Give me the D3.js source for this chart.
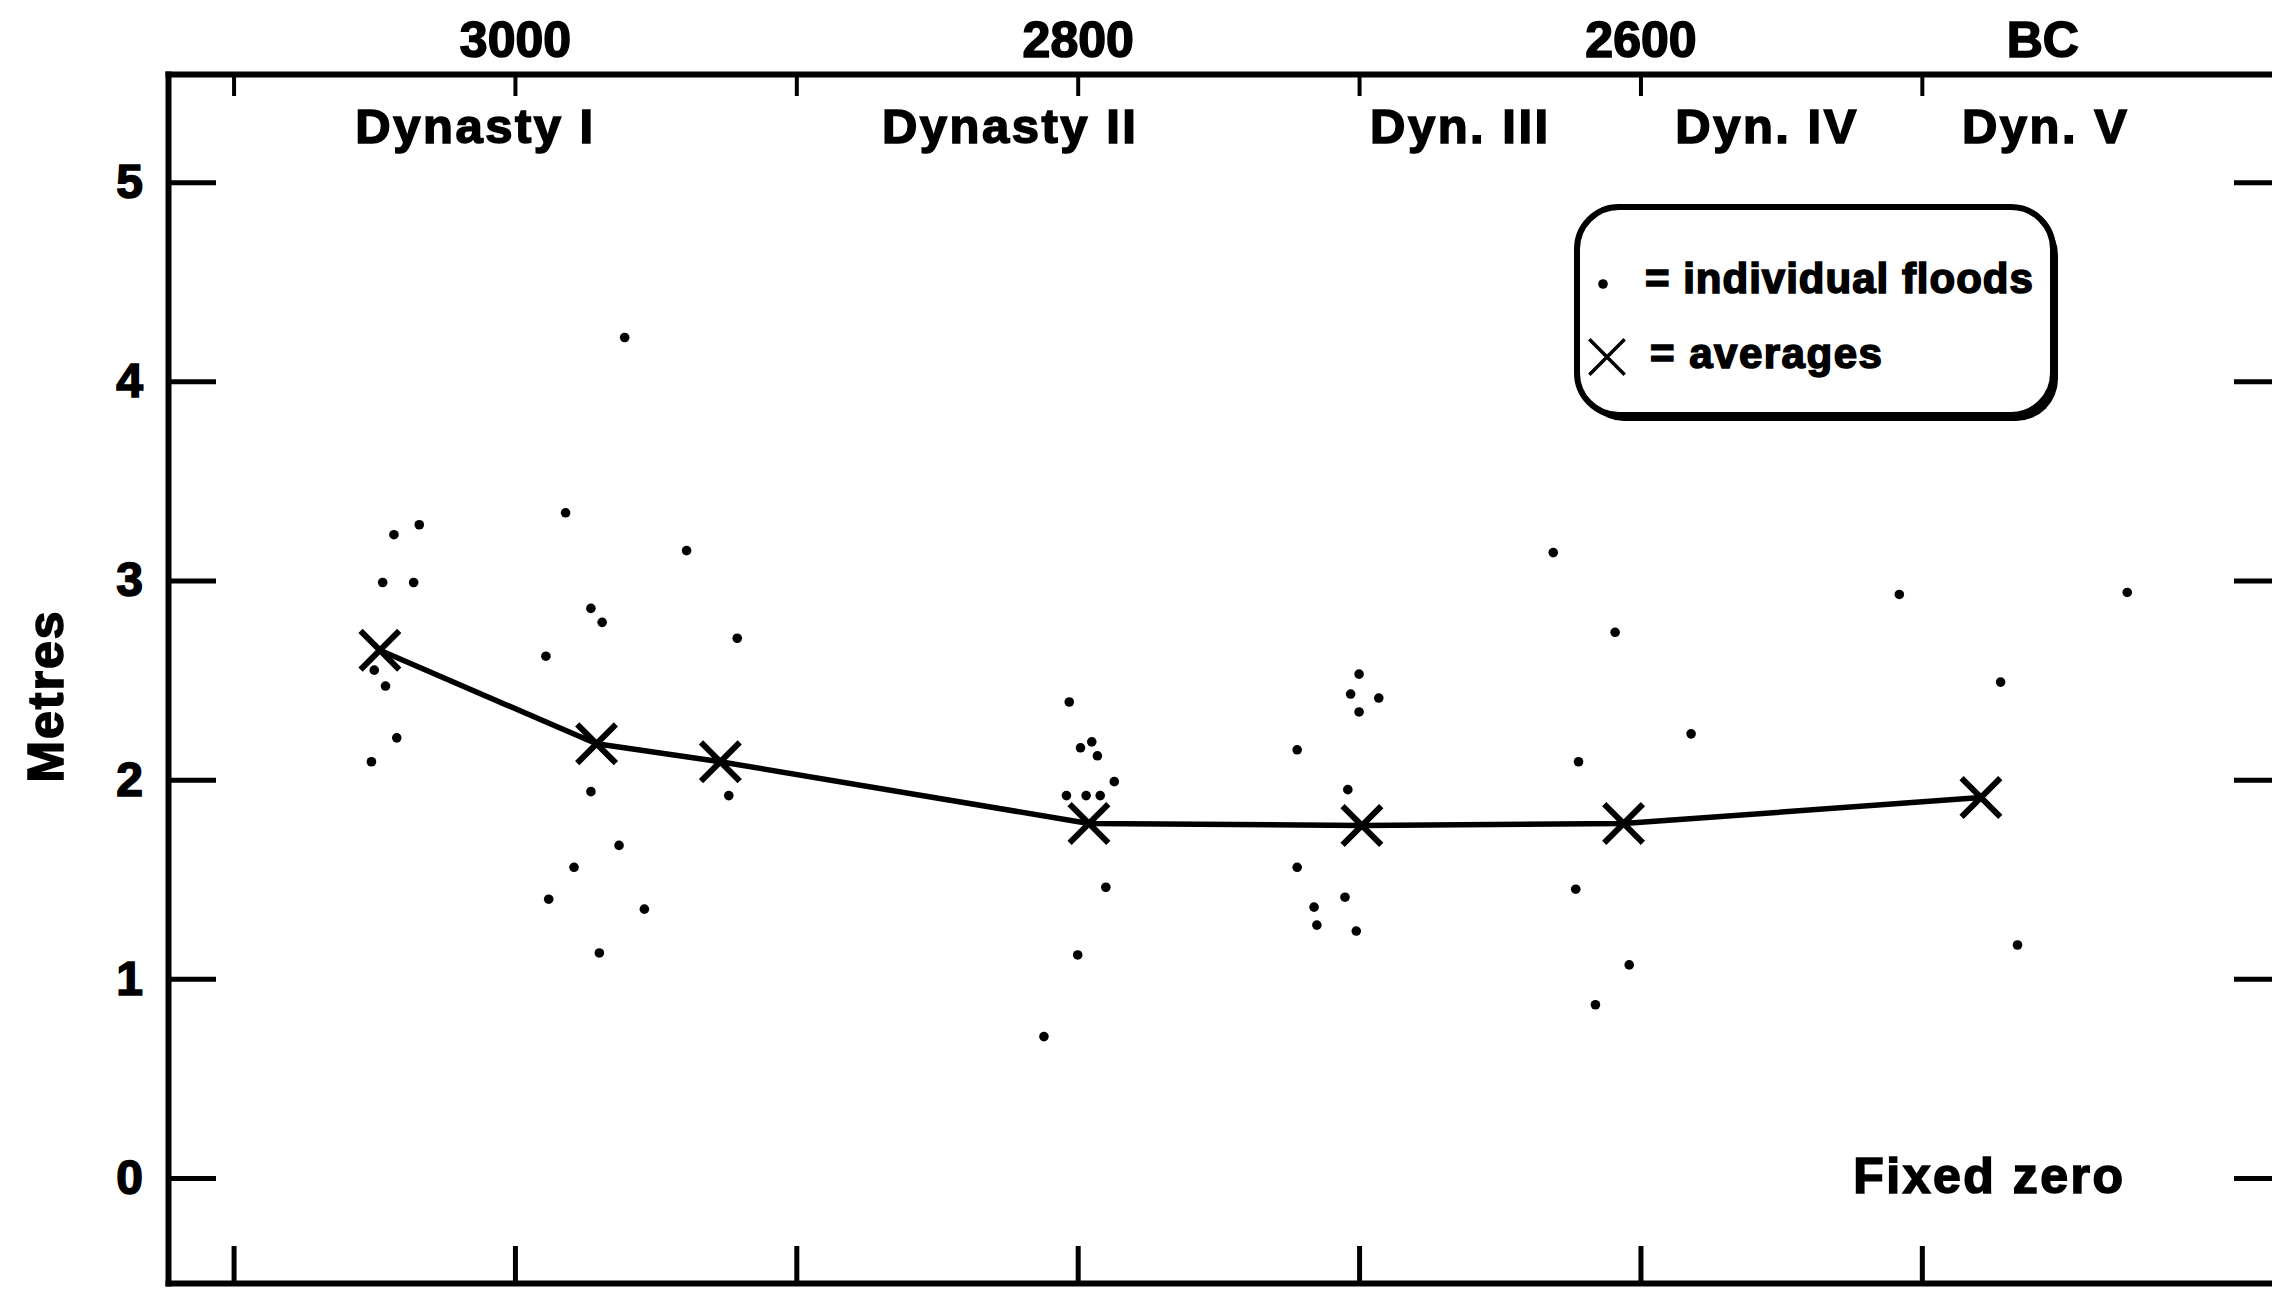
<!DOCTYPE html>
<html>
<head>
<meta charset="utf-8">
<script src="https://cdn.jsdelivr.net/npm/d3@7"></script>
<style>
body { margin: 0; background: #fff; }
text { font-family: "Liberation Sans", Arial, sans-serif; font-weight: bold; fill: #000; }
</style>
</head>
<body>
<div id="viz"></div>
<script>
// averages of the flood heights (year BC, metres above fixed zero)
var avgYears   = [3048, 2971, 2927, 2796, 2699, 2606, 2479];
var avgHeights = [2.65, 2.18, 2.09, 1.78, 1.77, 1.78, 1.91];

// individual floods
var floodYears = [
	2961, 2982, 3034, 3043, 2939, 3047, 3036, 2973, 2969, 2921, 2989,
	3050, 3046, 3042, 3051, 2973, 2924, 2963, 2979, 2988, 2954, 2970,
	2803, 2799, 2795, 2793, 2787, 2804, 2797, 2792, 2790, 2800, 2812,
	2700, 2703, 2693, 2700, 2722, 2704, 2722, 2705, 2716, 2715, 2701,
	2631, 2609, 2622, 2623, 2604, 2616, 2582,
	2508, 2427, 2472, 2466
];
var floodHeights = [
	4.22, 3.34, 3.28, 3.23, 3.15, 2.99, 2.99, 2.86, 2.79, 2.71, 2.62,
	2.55, 2.47, 2.21, 2.09, 1.94, 1.92, 1.67, 1.56, 1.40, 1.35, 1.13,
	2.39, 2.16, 2.19, 2.12, 1.99, 1.92, 1.92, 1.92, 1.46, 1.12, 0.71,
	2.53, 2.43, 2.41, 2.34, 2.15, 1.95, 1.56, 1.41, 1.36, 1.27, 1.24,
	3.14, 2.74, 2.09, 1.45, 1.07, 0.87, 2.23,
	2.93, 2.94, 2.49, 1.17
];

var yearTicks  = [3100, 3000, 2900, 2800, 2700, 2600, 2500];
var yearLabels = [3000, 2800, 2600];
var metreTicks = [0, 1, 2, 3, 4, 5];
var dynastyNames = ['Dynasty I', 'Dynasty II', 'Dyn. III', 'Dyn. IV', 'Dyn. V'];
var dynastyYears = [3014, 2824, 2664, 2555, 2456];

var width = 2272,
	height = 1292,
	margin = {top: 74, right: -10, bottom: 9, left: 168};

var x = d3.scaleLinear()
	.domain([3123.3, 2372])
	.range([margin.left, width - margin.right]);

var y = d3.scaleLinear()
	.domain([-0.527, 5.543])
	.range([height - margin.bottom, margin.top]);

var svg = d3.select('#viz').append('svg')
	.attr('width', width)
	.attr('height', height)
	.style('display', 'block')
	.style('background', '#fff');

function styleAxis(g, tickWidth) {
	g.attr('font-size', null).attr('font-family', null);
	g.select('.domain').attr('stroke-width', 6).attr('stroke-linecap', 'square');
	g.selectAll('.tick line').attr('stroke-width', tickWidth);
	g.selectAll('.tick text')
		.style('font-size', '50px')
		.style('stroke', '#000')
		.style('stroke-width', '1.6px');
}

// top: dates BC
svg.append('g')
	.attr('transform', 'translate(0,' + margin.top + ')')
	.call(d3.axisTop(x).tickValues(yearTicks)
		.tickSizeInner(-22).tickSizeOuter(0).tickPadding(17)
		.tickFormat(function(d){ return yearLabels.indexOf(d) > -1 ? d : ''; }))
	.call(styleAxis, 4);

// bottom
svg.append('g')
	.attr('transform', 'translate(0,' + (height - margin.bottom) + ')')
	.call(d3.axisBottom(x).tickValues(yearTicks)
		.tickSizeInner(-37).tickSizeOuter(0).tickFormat(''))
	.call(styleAxis, 5);

// left: metres
svg.append('g')
	.attr('transform', 'translate(' + margin.left + ',0)')
	.call(d3.axisLeft(y).tickValues(metreTicks)
		.tickSizeInner(-48).tickSizeOuter(0).tickPadding(25)
		.tickFormat(d3.format('d')))
	.call(styleAxis, 5)
	.selectAll('.tick text').style('font-size', '48px');

// right
svg.append('g')
	.attr('transform', 'translate(' + (width - margin.right) + ',0)')
	.call(d3.axisRight(y).tickValues(metreTicks)
		.tickSizeInner(-48).tickSizeOuter(0).tickFormat(''))
	.call(styleAxis, 5);

var labelStyle = function(sel, size, spacing) {
	sel.style('font-size', size + 'px')
		.style('letter-spacing', spacing + 'px')
		.style('stroke', '#000')
		.style('stroke-width', '1.6px');
};

svg.append('text')
	.attr('x', x(2457))
	.attr('y', margin.top - 17)
	.attr('text-anchor', 'middle')
	.text('BC')
	.call(labelStyle, 50, 0);

svg.selectAll('.dyn')
	.data(dynastyNames)
	.enter().append('text')
	.attr('class', 'dyn')
	.attr('x', function(d, i){ return x(dynastyYears[i]); })
	.attr('y', margin.top + 69)
	.attr('text-anchor', 'middle')
	.text(function(d){ return d; })
	.call(labelStyle, 49, 2.5);

svg.append('text')
	.attr('x', x(2476))
	.attr('y', y(0) + 15)
	.attr('text-anchor', 'middle')
	.text('Fixed zero')
	.call(labelStyle, 50, 2.5);

svg.append('text')
	.attr('transform', 'translate(63,' + y(2.42) + ') rotate(-90)')
	.attr('text-anchor', 'middle')
	.text('Metres')
	.call(labelStyle, 50, 2);

// individual floods
svg.selectAll('.flood')
	.data(floodYears)
	.enter().append('circle')
	.attr('class', 'flood')
	.attr('cx', function(d){ return x(d); })
	.attr('cy', function(d, i){ return y(floodHeights[i]); })
	.attr('r', 4.8)
	.attr('fill', '#000');

// averages line
var line = d3.line()
	.x(function(d){ return x(d); })
	.y(function(d, i){ return y(avgHeights[i]); });

svg.append('path')
	.datum(avgYears)
	.attr('d', line)
	.attr('fill', 'none')
	.attr('stroke', '#000')
	.attr('stroke-width', 5.5)
	.attr('stroke-linejoin', 'round');

var timesType = {
	draw: function(ctx, size){
		var r = Math.sqrt(size) / 2;
		ctx.moveTo(-r, -r); ctx.lineTo(r, r);
		ctx.moveTo(-r, r); ctx.lineTo(r, -r);
	}
};

svg.selectAll('.avg')
	.data(avgYears)
	.enter().append('path')
	.attr('class', 'avg')
	.attr('transform', function(d, i){ return 'translate(' + x(d) + ',' + y(avgHeights[i]) + ')'; })
	.attr('d', d3.symbol().type(timesType).size(1500))
	.attr('fill', 'none')
	.attr('stroke', '#000')
	.attr('stroke-width', 6);

// legend
var legend = svg.append('g').attr('transform', 'translate(1577,207)');

legend.append('rect')
	.attr('x', 5).attr('y', 6)
	.attr('width', 476).attr('height', 208)
	.attr('rx', 42)
	.attr('fill', '#000');

legend.append('rect')
	.attr('width', 476).attr('height', 208)
	.attr('rx', 42)
	.attr('fill', '#fff')
	.attr('stroke', '#000')
	.attr('stroke-width', 6);

legend.append('circle')
	.attr('cx', 26).attr('cy', 77)
	.attr('r', 4.8)
	.attr('fill', '#000');

legend.append('path')
	.attr('transform', 'translate(30,150)')
	.attr('d', d3.symbol().type(timesType).size(1250))
	.attr('fill', 'none')
	.attr('stroke', '#000')
	.attr('stroke-width', 3.5);

legend.append('text')
	.attr('x', 68).attr('y', 86)
	.text('= individual floods')
	.call(labelStyle, 42, 1);

legend.append('text')
	.attr('x', 73).attr('y', 161)
	.text('= averages')
	.call(labelStyle, 42, 1.5);
</script>
</body>
</html>
